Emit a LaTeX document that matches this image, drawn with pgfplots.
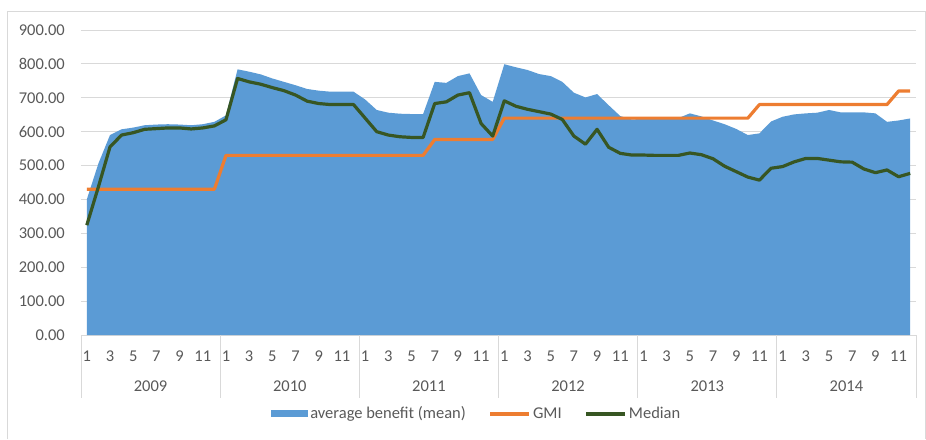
\documentclass[border=0pt]{standalone}
\usepackage{fontspec}
\setmainfont{Carlito}
\usepackage{pgfplots}
\pgfplotsset{compat=1.18}
\usepackage{pgfplotstable}

\definecolor{meanblue}{HTML}{5B9BD5}
\definecolor{gmiorange}{HTML}{ED7D31}
\definecolor{medgreen}{HTML}{375623}
\definecolor{txtgray}{HTML}{595959}
\definecolor{gridgray}{HTML}{D9D9D9}

% month index, mean benefit, GMI, median (Jan 2009 .. Dec 2014)
\pgfplotstableread{
x  mean gmi median
1  400 430 324
2  506 430 437
3  590 430 555
4  607 430 590
5  612 430 597
6  619 430 607
7  621 430 609
8  622 430 611
9  621 430 611
10 619 430 608
11 622 430 611
12 629 430 617
13 648 530 635
14 784 530 757
15 777 530 747
16 769 530 740
17 757 530 730
18 747 530 721
19 737 530 708
20 726 530 690
21 721 530 683
22 718 530 680
23 718 530 680
24 718 530 680
25 695 530 640
26 664 530 600
27 656 530 590
28 653 530 585
29 652 530 583
30 652 530 583
31 747 577 683
32 744 577 688
33 764 577 708
34 772 577 715
35 708 577 624
36 688 577 587
37 799 640 691
38 790 640 675
39 782 640 666
40 770 640 659
41 764 640 652
42 747 640 636
43 715 640 587
44 701 640 563
45 711 640 607
46 678 640 554
47 646 640 536
48 636 640 531
49 638 640 531
50 638 640 530
51 638 640 530
52 640 640 530
53 654 640 537
54 645 640 532
55 633 640 520
56 622 640 498
57 608 640 482
58 590 640 466
59 595 680 457
60 630 680 492
61 644 680 497
62 651 680 511
63 654 680 521
64 656 680 521
65 664 680 516
66 657 680 511
67 657 680 510
68 657 680 490
69 654 680 479
70 629 680 487
71 633 720 467
72 639 720 477
}\benefit

\begin{document}
\fontsize{16.5}{19}\selectfont
\begin{tikzpicture}
\path[use as bounding box] (-81pt,-104pt) rectangle (845pt,335pt);
% chart frame
\draw[gridgray, line width=0.8pt] (-74pt,-104pt) -- (-74pt,324pt) -- (844.5pt,324pt) -- (844.5pt,-104pt);
\begin{axis}[
  at={(0pt,0pt)}, anchor=south west,
  scale only axis, width=835pt, height=305pt,
  xmin=0.5, xmax=72.5, ymin=0, ymax=900,
  clip=false,
  axis line style={draw=none},
  major tick length=0pt,
  ytick={0,100,...,900},
  ymajorgrids, grid style={gridgray, line width=0.8pt},
  xtick={1,3,...,71},
  xticklabels={1,3,5,7,9,11,1,3,5,7,9,11,1,3,5,7,9,11,1,3,5,7,9,11,1,3,5,7,9,11,1,3,5,7,9,11},
  tick label style={font=\fontsize{16.5}{19}\selectfont, text=txtgray},
  xticklabel style={anchor=base, inner sep=0pt, yshift=-26.7pt},
  yticklabel style={anchor=east, inner sep=0pt, xshift=-16pt,
    /pgf/number format/.cd, fixed, fixed zerofill, precision=2, 1000 sep={}, assume math mode=true},
  legend style={at={(0.474,-0.259)}, anchor=center, draw=none, fill=none,
    legend columns=3, font=\fontsize{16.5}{19}\selectfont, text=txtgray,
    nodes={inner xsep=2pt, inner ysep=0pt},
    /tikz/every odd column/.append style={column sep=0pt},
    /tikz/every even column/.append style={column sep=21pt}},
]
\addplot[fill=meanblue, draw=none,
  legend image code/.code={\fill[meanblue] (0pt,-3pt) rectangle (37pt,3.5pt);}]
  table[x=x, y=mean] {\benefit} \closedcycle;
\addlegendentry{average benefit (mean)}
\addplot[gmiorange, line width=3.2pt, line join=round,
  legend image code/.code={\draw[gmiorange, line width=3.2pt] (0pt,0pt) -- (39pt,0pt);}]
  table[x=x, y=gmi] {\benefit};
\addlegendentry{GMI}
\addplot[medgreen, line width=3.2pt, line join=round,
  legend image code/.code={\draw[medgreen, line width=3.2pt] (0pt,0pt) -- (39pt,0pt);}]
  table[x=x, y=median] {\benefit};
\addlegendentry{Median}
% year separators and labels
\pgfplotsinvokeforeach{0.5,12.5,24.5,36.5,48.5,60.5,72.5}{
  \draw[gridgray, line width=0.8pt] (axis cs:#1,0) -- ++(0pt,-63pt);
}
\node[anchor=base, inner sep=0pt, text=txtgray] at ([yshift=-56.7pt]axis cs:6.5,0) {2009};
\node[anchor=base, inner sep=0pt, text=txtgray] at ([yshift=-56.7pt]axis cs:18.5,0) {2010};
\node[anchor=base, inner sep=0pt, text=txtgray] at ([yshift=-56.7pt]axis cs:30.5,0) {2011};
\node[anchor=base, inner sep=0pt, text=txtgray] at ([yshift=-56.7pt]axis cs:42.5,0) {2012};
\node[anchor=base, inner sep=0pt, text=txtgray] at ([yshift=-56.7pt]axis cs:54.5,0) {2013};
\node[anchor=base, inner sep=0pt, text=txtgray] at ([yshift=-56.7pt]axis cs:66.5,0) {2014};
\end{axis}
\end{tikzpicture}
\end{document}
